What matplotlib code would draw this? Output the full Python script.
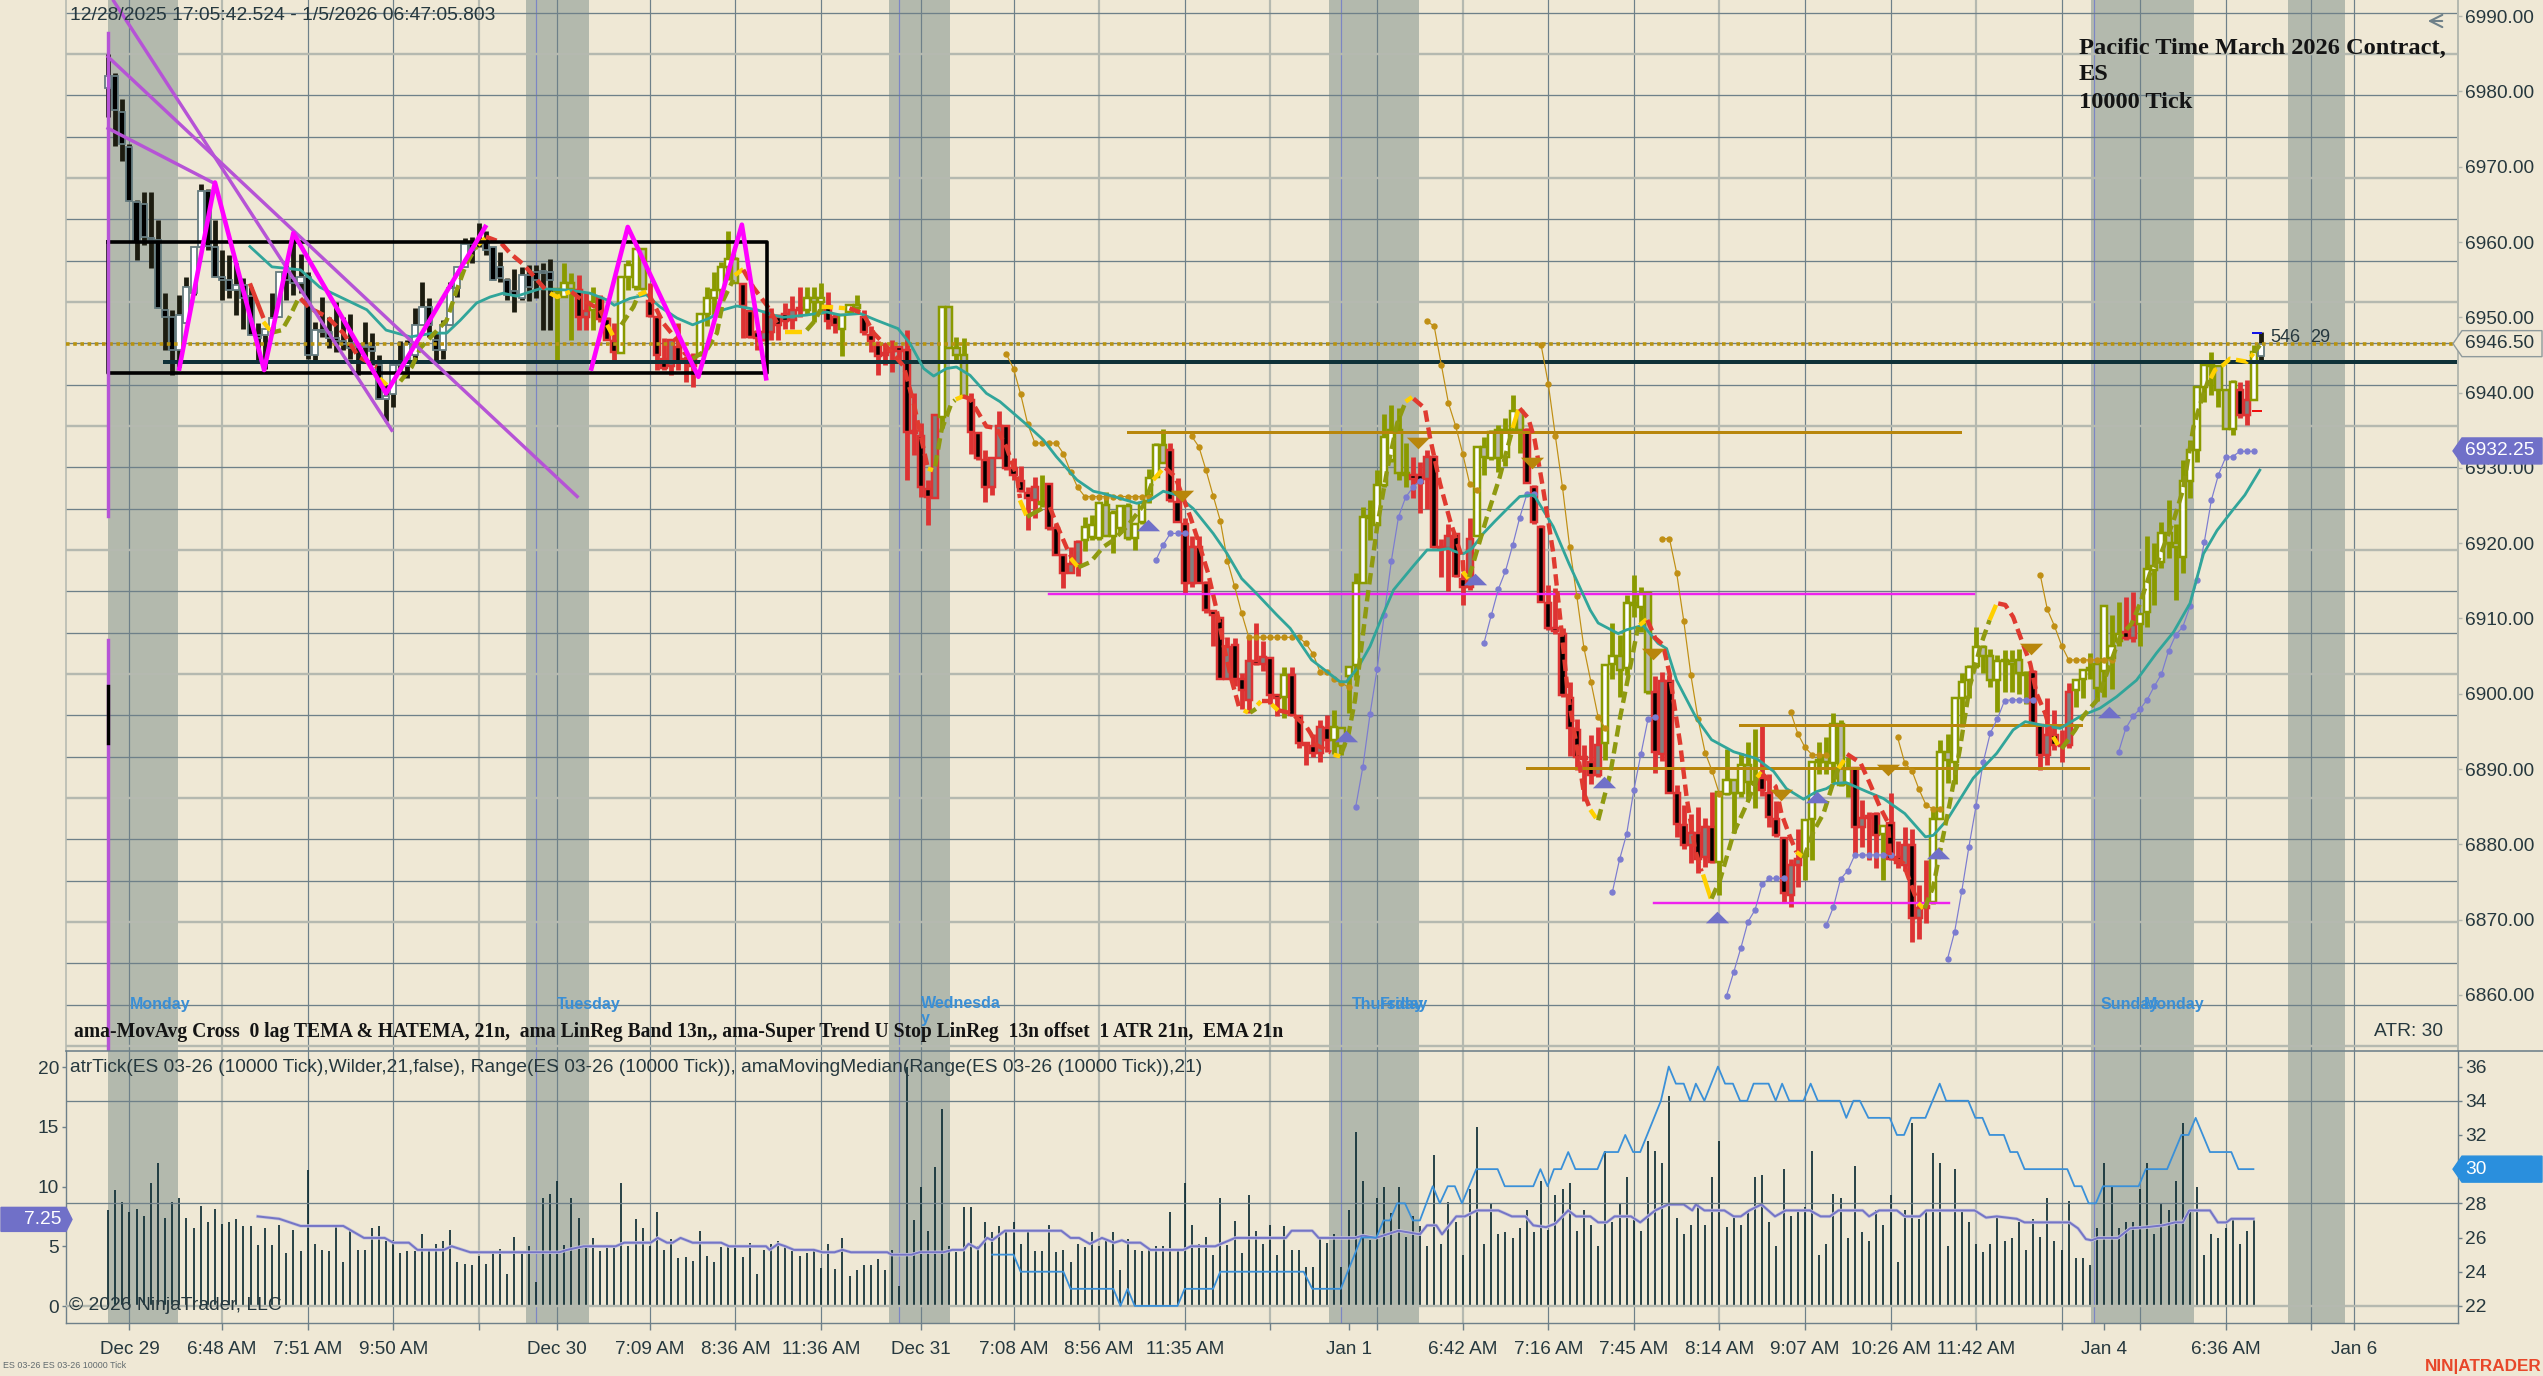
import numpy as np
import matplotlib
matplotlib.use("Agg")
import matplotlib.pyplot as plt
from matplotlib.patches import Polygon

plt.rcParams['font.family'] = ['Liberation Sans', 'DejaVu Sans']

# candles, one value per 10000 tick bar
bar_open = [
    6980.5,6982,6977.3,6972.6,6965.3,6965,6960.5,6960.2,6951,6950,
    6945.7,6949.2,6953.2,6959.4,6966.8,6959.4,6955.4,6955,6953.6,6954.3,
    6952.8,6947.6,6947.6,6948.5,6950.1,6956,6955.2,6954.6,6955.4,6945,
    6948.3,6948,6947.2,6946.8,6946.6,6946,6946,6946.1,6943.7,6939.2,
    6939.8,6943.7,6943.5,6945,6949,6951.4,6947,6945.6,6949,6953.9,
    6956.7,6959.8,6959.8,6960,6959.4,6956.7,6955,6953.5,6952.6,6955.6,
    6956,6956,6956,6953.8,6952.7,6954.6,6953.6,6950,6951,6952.5,
    6949.8,6946.8,6945.2,6955.4,6954,6959.1,6952.2,6950,6944.5,6943.5,
    6946,6944,6944.5,6945,6950.5,6952.5,6953.6,6956.7,6957.8,6954.4,
    6950.8,6948,6947,6948,6950,6950.5,6949.7,6951,6951,6952.6,
    6952,6951.5,6950,6948.5,6950.7,6951.6,6950,6947.6,6946.3,6945,
    6945.5,6946,6945.7,6934.8,6934.2,6927.2,6926,6936.8,6951.4,6945.9,
    6945,6939,6934.6,6931,6927.5,6931.3,6935.5,6930,6928.2,6926.6,
    6925.8,6925.5,6927.8,6922,6918.4,6916,6917.3,6920.4,6920.8,6920.7,
    6925.1,6921,6922,6925,6920.7,6922.8,6926.4,6928.8,6933,6932.4,
    6925.5,6922.6,6914.7,6919.5,6914.7,6911,6910,6902,6906.5,6902,
    6899.2,6904.3,6904,6904.7,6899.8,6899.6,6902.5,6897,6893.4,6893,
    6892.2,6895.5,6893.8,6895.4,6902.3,6903.8,6914.7,6923.5,6922.4,6927.7,
    6931,6935,6929.3,6929,6929,6928.5,6931.5,6919.5,6919.3,6921.2,
    6915.3,6914.2,6920.9,6932.8,6931.3,6935,6931.5,6935,6937.5,6935,
    6927.5,6922.2,6912,6908.7,6908,6899.4,6895.2,6891.6,6891,6889.2,
    6893.4,6904,6905,6903.4,6912,6911.5,6913.4,6900.2,6892,6901.7,
    6886.8,6882.6,6879.9,6881.5,6878.3,6882.3,6877.7,6886.7,6888.6,6886.8,
    6890.5,6888.3,6888.8,6886.8,6883.4,6880.8,6873.3,6877.2,6878.4,6883.4,
    6891,6891.8,6890.8,6896,6888,6890.1,6882.3,6883.5,6884,6881.4,
    6882.8,6878.3,6877.2,6879.9,6870.2,6871.5,6872.4,6883.4,6892.3,6891,
    6899.5,6901.8,6903.7,6906.2,6905,6901.8,6904.5,6904.3,6904.5,6902.7,
    6902.9,6895.8,6891.9,6894.5,6893.2,6893.2,6900.5,6902,6903.1,6904,
    6903,6904.7,6907,6908.2,6907.4,6909.3,6910.9,6916.5,6917.5,6921.3,
    6920,6918.2,6928.2,6932.4,6940.8,6943.7,6943.5,6940.3,6935.2,6940.3,6937,6939,6944.8]
bar_high = [
    6985,6982.4,6979,6973,6965.6,6966.7,6966.7,6962.9,6953.2,6951,
    6953,6955.4,6959.4,6967.7,6967,6962.9,6959,6958.3,6957.2,6955.2,
    6954,6949.2,6947.6,6953.2,6956,6957,6961,6958.4,6956,6949.4,
    6952.7,6950,6952,6950,6950.5,6946.5,6949.4,6947.9,6945,6941,
    6943.7,6946.8,6947,6951.2,6954.7,6952.5,6947.9,6949.6,6954.7,6956.7,
    6960.5,6960.7,6962.5,6961.4,6959.4,6958.7,6955.2,6956.4,6956.7,6957,
    6957,6957.2,6957.7,6953.8,6957.2,6955.9,6955.6,6953.4,6954,6953,
    6950,6949.2,6955.4,6957.6,6959.2,6959.2,6954.5,6950,6947.2,6947,
    6949.2,6944.8,6945.2,6950.5,6954,6956,6957.4,6961.4,6958,6954.4,
    6951,6948.3,6951,6951.2,6950.5,6951.9,6952.8,6954,6954,6954,
    6954.5,6953.4,6950.5,6950.3,6951.8,6953,6951,6948.8,6946.8,6946.5,
    6947,6946,6948.3,6939.9,6935.9,6928.4,6937,6951.4,6951.4,6947.4,
    6947.2,6939.9,6934.8,6932.4,6931.5,6937.5,6935.5,6931.3,6930.2,6927.5,
    6928.8,6929,6928,6922.6,6918.4,6919.5,6920.4,6923.5,6923.8,6925.3,
    6926.8,6924.4,6925,6925.3,6922.6,6925.3,6929.9,6933.3,6935.2,6933.3,
    6928.6,6923.3,6920.9,6921,6915,6911.1,6910.2,6907.6,6907.4,6902.7,
    6907.4,6909.4,6907,6904.9,6900,6903.6,6903.6,6897,6893.4,6894.7,
    6896.5,6897.2,6897.8,6895.6,6903.6,6916,6924.8,6925.7,6929.7,6937.2,
    6938.3,6937.9,6933.3,6931.5,6930.8,6932.4,6931.7,6920.6,6922.6,6921.3,
    6916,6923.3,6932.8,6934.1,6935,6935.7,6936.6,6939.7,6937.5,6935.3,
    6927.7,6922.4,6914.4,6914,6908.7,6901.6,6896.7,6893.2,6894.5,6895.6,
    6903.8,6909.4,6907.8,6913.1,6915.8,6914.2,6913.6,6902.3,6902.9,6902.5,
    6887.9,6885.2,6884.1,6885,6883.5,6887,6887,6892.7,6888.6,6892.1,
    6893.6,6895.3,6895.8,6889.4,6885.7,6881,6878.1,6882.1,6883.2,6891,
    6893.6,6894.3,6897.4,6896.5,6891.6,6890.3,6885.9,6884.3,6884.3,6882.6,
    6886.8,6880.4,6882.3,6882.1,6874.6,6877.9,6884.8,6893.8,6894.7,6899.4,
    6902.7,6903.8,6908.9,6906.5,6906,6905.1,6905.8,6905.8,6906,6903,
    6903.2,6896,6899.4,6897.8,6895.2,6901.4,6902,6903.2,6905.4,6904,
    6911.6,6910.4,6912.2,6912.9,6913.5,6910.7,6920.9,6920,6922.8,6925.7,
    6922.6,6931,6933.7,6940.8,6943.7,6945.4,6943.7,6940.3,6941.7,6941.4,6941.7,6946.3,6948]
bar_low = [
    6976.6,6972.7,6970.7,6965.4,6957.6,6959.6,6956.5,6951.2,6945.7,6942.3,
    6943.4,6949.2,6953,6959.4,6959,6955.4,6952.3,6952.5,6950.3,6948.5,
    6947.6,6944.3,6943.2,6947.9,6950.1,6952.3,6953,6953.2,6944.5,6944,
    6947.4,6945.9,6945.4,6945.6,6944.5,6942.3,6943.9,6943.7,6939.2,6936.2,
    6938.1,6943,6942,6944,6949,6947.4,6944.1,6944.5,6949,6952.7,
    6956.7,6957.2,6959.4,6958.3,6955,6954.7,6952.3,6950.7,6952.3,6952.1,
    6952.5,6948.3,6948.3,6944.3,6952.7,6947,6948.3,6948.3,6948.3,6949.4,
    6947,6944.3,6945.2,6953.6,6953.6,6953.6,6950,6943,6943,6942.3,
    6943,6941.4,6940.8,6944.8,6948.8,6950,6952.3,6955,6954.5,6947.2,
    6947.2,6945.7,6946.8,6947,6947,6948.5,6948.5,6950,6950.5,6949.4,
    6950.5,6948.5,6947.9,6944.8,6950.5,6950.5,6947.6,6945.4,6942.3,6943.7,
    6942.8,6944.3,6928.4,6931.7,6926.2,6922.4,6926,6935.3,6945.9,6944.3,
    6939.5,6931.9,6931,6925.5,6926.4,6931.3,6929.7,6928.4,6926.8,6921.7,
    6923.3,6924.8,6921.8,6918.4,6914,6916,6915.6,6918.9,6920.4,6920.4,
    6921,6918.7,6921.3,6920.4,6919.1,6922.6,6925.3,6928.8,6930.6,6925.5,
    6922.8,6913.3,6914.2,6914.7,6910.7,6906.3,6902,6902,6901,6898,
    6897.4,6903.8,6903,6898.7,6897,6896.8,6897,6892.8,6890.5,6891.6,
    6891,6892.3,6892,6891.9,6897.4,6901.8,6914.7,6920.4,6922.4,6927.5,
    6930.8,6928.4,6927.5,6926,6924,6924.6,6919.3,6915.5,6913.6,6915.5,
    6911.8,6913.8,6920.9,6929,6931,6929.5,6930.2,6935,6932,6928,
    6922.6,6912.2,6908.5,6908,6899.6,6891.7,6889.9,6885.7,6888,6889,
    6891.2,6902,6899.6,6902.5,6910.2,6908.2,6900,6889.5,6891.1,6886.8,
    6881,6879.4,6877.5,6876.2,6877,6877.5,6873.3,6886.6,6881.5,6886.3,
    6885.9,6884.8,6886.4,6882.3,6881,6872.4,6871.7,6874.4,6875.3,6877.9,
    6889.4,6889.3,6888.1,6887.7,6886.3,6878.8,6879.7,6877.9,6876.8,6875.3,
    6877.9,6876.8,6876.4,6867.1,6867.5,6869.5,6872.1,6883.4,6888.1,6888,
    6895.6,6899.4,6903.4,6902.7,6900.9,6897.6,6900.3,6900.3,6900,6898.7,
    6896,6889.9,6890.5,6892.5,6891,6892.8,6898.3,6899.4,6902,6899,
    6899.6,6900.7,6906.3,6907.1,6906.9,6906.3,6908.9,6911.8,6916.7,6918,
    6912.4,6916,6926,6930.8,6938.8,6939.7,6938.1,6935.2,6934.4,6936.6,6935.7,6939,6944]
bar_close = [
    6982,6977.5,6973,6965.4,6960,6960.7,6960.2,6951.2,6950.1,6945.7,
    6950.3,6954,6959.4,6966.8,6959.5,6955.4,6955,6953.6,6954.3,6952.5,
    6947.6,6947.2,6948.5,6949.9,6956,6955,6954.5,6955.4,6945,6948.3,
    6948,6947.2,6946.8,6946.4,6945.9,6946.2,6946.3,6945.5,6939.2,6939.5,
    6943.7,6944,6946.5,6949,6951.4,6949,6945.6,6949,6953.9,6956.7,
    6959.8,6959,6960,6959,6955,6955.2,6953,6953,6955.6,6954,
    6955,6955.9,6955,6953.5,6954.6,6953.8,6950,6950.9,6952,6949.8,
    6947,6945.4,6955.4,6957,6959.1,6953.7,6950.2,6945,6943.3,6947,
    6944,6944.5,6943.5,6950.5,6952.5,6953.6,6956.7,6957.8,6954.5,6951.5,
    6947.4,6947.2,6948,6950,6949,6949.5,6951,6951.3,6952.6,6952,
    6952.5,6949.5,6949,6950.3,6951.6,6951.2,6948,6946.8,6944.8,6945.2,
    6945.8,6945.5,6934.8,6934.6,6927.5,6926.2,6937,6951.4,6945.9,6945,
    6939.5,6934.8,6931.3,6927.5,6931.3,6935.5,6930,6929,6926.9,6926,
    6927.5,6925.2,6922,6918.4,6916,6917.3,6920.2,6922.2,6922.4,6925.3,
    6921,6924,6925,6920.7,6922.6,6925.3,6928.6,6933,6930.6,6925.7,
    6922.8,6914.7,6919.5,6914.7,6911.1,6910.4,6902,6906.2,6902,6900.5,
    6904.3,6904,6904.9,6899.8,6899.5,6902.5,6897.2,6893.5,6893.2,6892.2,
    6895.6,6893.8,6895.6,6893,6903.6,6914.7,6923.5,6923.4,6927.7,6934.1,
    6935,6929.3,6929,6928.5,6928,6931.4,6919.5,6919.2,6921,6915.6,
    6914.2,6920.5,6932.8,6931.5,6934.8,6931.3,6935,6937.5,6935,6928,
    6922.8,6912.2,6908.7,6908.4,6899.8,6895.4,6891.6,6891.4,6889.2,6893.2,
    6903.8,6905,6903.2,6912,6911.8,6913.3,6900.3,6892.3,6901.7,6886.8,
    6882.7,6879.9,6881.5,6878.1,6882.3,6877.7,6887,6888.5,6886.8,6890.5,
    6888.3,6888,6887.2,6883.7,6881.2,6873.5,6877.2,6878,6883.2,6891,
    6891.2,6891,6896,6887.9,6890,6882.3,6883.5,6883.8,6881.2,6882.4,
    6878.1,6877.5,6879.9,6870.2,6871.5,6871.8,6883.4,6892.3,6891.2,6899.4,
    6901.6,6903.6,6906.2,6905,6901.8,6904.4,6904.3,6904,6902.7,6902.5,
    6896.1,6891.9,6894.5,6893.2,6893,6900.3,6901.8,6903.1,6903.4,6900.8,
    6911.6,6906.3,6908,6907.4,6909.2,6910.6,6916.6,6917,6921.3,6920,
    6919.5,6928.2,6932.4,6940.8,6943.7,6943.5,6940.3,6935.2,6941.4,6937,6939,6945.4,6946.5]
bar_regime = ("K"*63 + "O"*3 + "R"*2 + "O" + "R"*3 + "O"*4 + "R"*7 + "O"*6 + "R"*9 + "O"*3
              + "R"*2 + "O"*3 + "R"*11 + "O"*4 + "R"*10 + "O" + "R"*5 + "O"*12 + "R"*16 + "O"
              + "R"*6 + "O"*11 + "R"*9 + "O"*7 + "R"*11 + "O"*7 + "R"*9 + "O"*6 + "R"*6
              + "O"*7 + "R"*4 + "O" + "R"*6 + "O"*14 + "R"*6 + "O"*7 + "R"*2 + "O"*14
              + "R"*2 + "O" + "K")

# lower panel
bar_range = [
    8,9.7,8.7,7.9,8.1,7.5,10.3,12,7.4,8.7,9,7.4,6.5,8.4,7,8.1,6.9,7,7.3,6.7,
    6.7,5.1,6.5,5.1,6.8,4.4,6.4,4.6,11.4,5.2,4.7,4.6,6.7,3.7,6.3,4.7,4.7,6.5,6.7,5.4,
    5.5,4.4,4.6,4.6,6,4.7,5.2,5.4,6.4,3.7,3.5,3.4,4.2,3.5,4.6,4.8,2.7,5.8,4.5,5,
    2,9,9.4,10.5,5.1,9,7.4,5,5.7,4.6,5,5,10.3,5,7.3,6.5,5,7.9,4.7,5.6,
    4,4.1,3.8,6.3,4.2,3.7,4.9,5,5,4.1,5.3,2.7,4.7,5.2,5.4,5.1,4.6,4.2,4.4,4.6,
    3.2,5.2,3.1,5.7,2.5,3,3.4,3.4,3.9,3,4.7,1.7,20,7.2,10,6.3,11.6,16.5,5,4.5,
    8.3,8.3,5,7,6.2,6.7,6.3,7,5.2,6.2,4.6,4.6,6.8,4.5,4.7,3.7,5.2,4.9,6.2,5,
    5.4,6.2,3,5.6,4.7,4.6,4.7,5,5,7.9,4.7,10.3,6.8,5.2,5.8,4.3,9,5.1,7.1,4.4,
    9.3,6.3,5.2,6.8,
    4.3,6.7,4.7,4.7,3.3,3.3,5.7,5.3,6,3.3,8,14.6,10.5,5.5,9,10,7.8,10,5.8,7.5,
    6.7,5,12.6,5.2,8.7,7,4.3,9.8,15,5.2,8.5,6,6.2,5.7,6.5,8,6.2,10.5,6.4,9.3,
    9.8,10.3,6.3,8,6.8,5,13,7,8.5,10.8,7.2,6.3,13.8,13,12,17.6,7.4,6,6.8,8.6,
    6.8,10.8,13.8,6.6,7.5,6.8,8,10.8,11,7,5,11.5,7.5,8,8.3,13,4.3,5.2,9.4,9,
    5.7,11.7,6.2,5.4,8,6.8,9.3,3.7,8,15.3,7.3,8,12.8,12,5,11.5,8,7,5.2,4.5,
    5.2,7.5,5.4,5.7,7,4.7,7.3,5.8,9,5.4,4.7,8.8,4,4,3.4,6.5,12,10,6.5,7,
    7,9.8,12,6,8.5,8,10.5,15.3,8,10,4.3,6,5.7,6.5,7.3,5.2,6.3,7.2]
median_x = [21,24,27,33,35.9,38.8,40,42.2,43.4,47.1,48.2,50.8,63.3,64.4,66.7,71.2,72.4,76.1,77.1,78.4,
            79.2,80.3,82,86,87.1,92.3,92.8,94,95,96.2,99,100.2,101.9,103,104.2,109.3,109.9,112.7,113.8,117.2,
            118.4,120,120.7,122,123.3,124,125.8,133.7,135,136.2,137.7,139.4,141.1,142.2,143,144.8,146.2,150.8,151.9,155.3,
            158.1,163,165.2,166,168.9,169.8,174.9,176,177.8,181,184,185,186.3,187.1,189.1,190.3,192,195,196.9,198.8,
            199.9,201.7,203,204.8,205.9,207.9,209,210.2,211.3,213.6,214.9,217,218.8,221,222.2,222.7,223.9,226.7,228,229,
            230.2,231.9,233.8,235.3,238.7,240.2,241.5,242.7,246.1,247,248.4,250.9,252,254.1,255,261.8,263.4,264.9,267.7,268.8,
            275.1,276.3,277.4,278.2,279.1,281.9,283.6,285.9,288.2,289.9,291,291.9,294.8,295.9,297.1,297.8,300.9]
median_y = [7.5,7.3,6.7,6.7,5.7,5.7,5.3,5.3,4.7,4.7,5,4.5,4.5,4.7,5,5,5.3,5.3,5.7,5.3,
            5.3,5.7,5.3,5.3,5,5,4.7,5.2,5,4.7,4.7,4.5,4.5,4.7,4.5,4.5,4.3,4.3,4.5,4.5,
            4.7,4.7,5.2,4.8,5.7,5.5,6.3,6.3,5.7,5.7,5.2,5.7,5.3,5.5,5.3,5.3,4.7,4.7,5,5,
            5.7,5.7,5.7,6.3,6.3,5.7,5.7,5.9,5.7,6.3,6,6.75,6.75,6,7.5,7.5,8,8,7.5,7.5,
            6.75,6.6,6.9,8,7.5,7.5,7,7,7.5,7.5,7,8,8.5,8.5,8,8.5,8,8,7.5,7.5,
            8,8.5,7.5,8,8,7.5,7.5,8,8,7.5,8,8,7.5,7.5,8,8,7.4,7.5,7.3,7,
            7,6.5,5.6,5.5,5.7,5.7,6.5,6.6,6.75,7,7,8,8,7,7,7.3,7.3]
atr_x = [124,127,128,134,135,141,142,143,144,150,151,155,156,167.7,168.9,172.9,175.8,177.9,178.9,179.8,
         180.8,181.9,183,184,185.8,186.8,187.9,188.9,189.9,191.9,194.9,195.9,199.9,200.9,201.9,202.8,203.8,204.8,205.8,208.9,
         209.9,211.8,212.8,213.9,214.9,217.8,218.9,219.9,221,221.9,222.7,223.9,225.8,226.8,227.9,228.9,229.9,230.8,232.9,233.9,
         234.8,235.8,237.8,238.8,239.8,242.9,243.8,244.8,245.7,246.9,249.9,250.9,251.9,252.9,254.9,256.9,257.8,260.9,261.9,262.9,
         263.9,265.9,266.8,267.8,268.8,274.8,275.8,276.8,277.8,278.8,279.8,284.8,285.8,288.8,290.8,291.8,292.8,294.8,297.8,298.8,300.9]
atr_y = [25,25,24,24,23,23,22,23,22,22,23,23,24,24,23,23,26,26,27,27,
         28,28,27,27,29,28,29,29,28,30,30,29,29,30,29,30,30,31,30,30,
         31,31,32,31,31,34,36,35,35,34,35,34,36,35,35,34,34,35,35,34,
         35,34,34,35,34,34,33,34,34,33,33,32,32,33,33,35,34,34,33,33,
         32,32,31,31,30,30,29,29,28,28,29,29,30,30,32,32,33,31,31,30,30]

# ema line on the price panel
ema_x = [19.9,23,27,29.7,36.3,39,42.4,45.6,47.5,49.4,51.7,53.6,55.4,57.3,60.6,64.8,67.6,70,71,73.2,
         75.5,77.4,79.8,82,84.4,86.3,88.2,91,93.3,94.7,98,100.8,102.7,105.5,107.8,110.8,112.5,114.4,115.8,117.6,
         119,120.9,123.2,125.1,128.9,131.2,133,135.9,138.2,139.6,144.3,146.1,148,149.9,152.2,155,156.9,159,161.1,163.9,
         165.8,168.8,172.8,173.7,175.4,177,178.9,180.3,183.1,185,186.8,188,188.9,190.1,191.3,192.9,194.5,196.6,198,200,
         202.7,204.9,207.9,209,211.8,213,215.3,217.4,218.6,220,222.8,224.9,228,231.2,233.6,235.4,237.8,239.6,241,242.2,
         243.8,246.7,249,252,254.9,256,257.9,261.6,264.9,267.2,268.9,271.4,273.8,276.6,279.4,281.7,284.5,287.3,289.7,292,
         293.9,295.8,298,299.7,301.8]
ema_y = [6959.4,6956.7,6956.3,6954,6951,6948.3,6947.4,6947.9,6947.9,6949.6,6951.9,6952.7,6953.2,6952.8,6953.8,6953.6,6953.2,6952.3,6951.6,6952.5,
         6953,6951.4,6949.9,6949,6949.9,6951,6951.5,6951,6950.3,6950,6950.3,6950.7,6950.3,6950.5,6949.6,6948.5,6946.5,6943.2,6942.2,6943.2,
         6943.4,6942.3,6939.9,6938.8,6935.7,6933.7,6931.5,6928.4,6926.9,6926.6,6925.3,6925.7,6926.9,6926.4,6924.6,6921.3,6918.7,6915.3,6913.3,6910.5,
         6908.7,6904.5,6901.6,6901.6,6903.6,6906.3,6910.7,6913.8,6917,6919.1,6919.1,6919.3,6918.9,6918.6,6919.3,6921.3,6922.9,6924.9,6926.2,6926.4,
         6922.2,6917.3,6911.1,6909.4,6908,6908.5,6909.1,6906.7,6906,6901.8,6896.7,6893.9,6892.3,6891.4,6889.7,6887.4,6886,6887,6887.4,6888.1,
         6888.2,6887,6886.1,6884.1,6881,6881.2,6883.2,6888.8,6892.1,6895.2,6896.3,6895.8,6895.4,6897,6898.1,6899.6,6901.8,6905.4,6908.2,6912,
         6918.6,6921.7,6924.4,6926.4,6929.7]

# zero lag dashed line, pieces by state: r falling, o rising, y turning
trend_state = "ryoryoyryryoyroyryoyr" + "yoyryoryoyr" + "yoyryr" + "yoyr"*6 + "yoyo"
trend_bars = [
    [19.9,21.8],[21.8,22.7],[22.7,24.4,25.5,26.7],[27,28.3,30.7,33,35.1,37.7],[38.1,39.1],
    [41,42.6,43.8,47.5,48.9,50.3,51.7],[51.9,52.9],[53,55,56.4,58.3,60.6,61.8],[62,63,64.8],
    [65,65.9,69,70],[70,70.8],[72,73.7,74.4],[74.4,75.5],[75.8,77.9,79.8,80.9,82],
    [82,84,85.4,86.3,87.7],[87.9,89.1],[89.1,90.5,92.4,94],[95,97.3],[98,99.2,99.9],
    [100.1,102.2,103.4],[104,105.9,107.4,109.2,111.6,113,114,115],
    [115,115.7],[116,116.9,118.3,118.8],[118.9,119.9],
    [119.9,120.9,123.2,124.6,126,127.5,127.9],[127.9,128.8],[128.9,131],
    [132.1,133,134.5,135.2],[135,136],[136.1,137.8,139.6,141,142.9,145.2,146.6],[146.6,147.8],
    [148.3,149.7,150.4,151.8,152.7,154.3,155.5,156.4,157.6,158.7],
    [159.3,159.9],[160.2,161],[161.2,161.7],[161.9,163],[163.2,164.1],
    [164.2,166,166.5,168.1,168.7,169.5,171.5],[171.9,172.8],
    [173,174,174.9,176.6,178,179.4,180.8,182],[182,182.9],
    [183.1,184.7,185.4,186.8,188.2,190,190.1],[190,190.8],
    [190.9,192,193.4,195.2,196.2,197.1],[197,197.8],
    [198,199.2,200.1,201.3,202.7,203.7,204.8,206,207,207.9],[207.9,208.7],
    [209,210.7,212,213.5,214.6],[214.8,215.8],
    [215.9,217,218.1,219,220.5,221.4,222.6,223.5],[223.7,224.8],
    [224.9,226.1,228,230,231.3],[231.3,231.9],
    [232,233.9,234.7,235.9,236.8],[236.8,237.6],
    [237.8,239.2,240.6,241.8,242.7],[242.7,243.5],
    [243.9,245.8,247.1,248.5,249.7,249.9,251.8,252.9,253.7],[253.9,254.6],
    [254.8,256,256.9,258.3,259.7,261.1,262.6,263.9],[263.9,264.8],
    [265.1,266.1,267.2,268.2,269.6,270.5,271.7,272.6],[272.8,273.5],
    [274,275.9,277,279,282.2,283.8,285,286.4,287.6,289.7,291,292.5,293.9,294.6],
    [294.9,295.5,296.7,297.6,298.8,300,300.9],[301.1,301.8]]
trend_prices = [
    [6954.5,6949.9],[6949.4,6948.3],[6947.9,6948.3,6950.1,6952.5],[6952.5,6951.2,6950.1,6947.9,6944.8,6943.4],[6941.9,6941],
    [6941.5,6943.4,6945.9,6949.6,6953.6,6957.2,6959.4],[6959.6,6960.5],[6960.7,6960,6958.5,6957,6954.5,6953.2],[6953.2,6952.7,6953.4],
    [6953.4,6952.7,6951,6949],[6949,6947.6],[6949,6951.4,6953],[6953,6953.4],[6953.2,6949.2,6947,6945.2,6944.5],
    [6944.5,6945.7,6947.9,6952.3,6955],[6955.6,6956.4],[6956.3,6954,6951.6,6949],[6948,6948],[6948.3,6949.6,6951],
    [6951.4,6951.3,6951.2],[6951.2,6950.5,6947.9,6946.1,6943.5,6938.6,6934.2,6929.9],
    [6929.9,6929.7],[6930.2,6935,6938.6,6939],[6939.1,6939.5],
    [6939.5,6939.2,6935.5,6935.3,6932.8,6928.8,6926],[6925.7,6923.7],[6923.5,6924.6],
    [6924.8,6922.6,6919.3,6918],[6918,6916.9],[6916.8,6917.5,6919.5,6920.4,6922.2,6925,6928.4],[6928.4,6929.7],
    [6930,6928.8,6927,6923.5,6920.9,6916,6911.1,6906.7,6901.8,6898],
    [6897.8,6897.5],[6897.5,6898],[6898.5,6899],[6899,6899],[6898.6,6897.8],
    [6897.8,6897.4,6897,6895.6,6894.7,6893.2,6892.2],[6891.9,6891.7],
    [6892.1,6894.7,6899.2,6912.5,6922.2,6929.7,6935.9,6938.8],[6938.8,6939.4],
    [6939.2,6937.9,6934.1,6928,6923.1,6917.8,6916.2],[6916.2,6915.3],
    [6915.5,6919,6923.5,6928.8,6932.4,6935.5],[6935.3,6937.7],
    [6937.9,6936.6,6933.7,6927.1,6918.7,6909.8,6899.6,6893,6886.8,6884.6],[6884.6,6883.5],
    [6883.2,6889.4,6896.5,6903.6,6908.9],[6909.1,6909.9],
    [6909.8,6907.4,6906.5,6902.7,6893.4,6886.3,6879.3,6876.4],[6876,6872.8],
    [6872.8,6875.3,6881.5,6885.7,6888.8],[6888.9,6889.6],
    [6889.4,6887.7,6884.1,6881,6879],[6879,6878.4],
    [6878.1,6881.7,6884.1,6887.7,6890.1],[6890.1,6891.2],
    [6892,6890.8,6888.1,6885,6882.8,6878.4,6877.5,6874.6,6872.6],[6872.2,6871.5],
    [6871.5,6874.4,6878.8,6885.4,6892.5,6900.9,6906.3,6909.8],[6909.8,6911.8],
    [6912,6911.8,6910.2,6907.6,6904,6900,6897.4,6894.5],[6894.3,6893.2],
    [6892.7,6895.2,6897,6899.2,6907.6,6909.3,6912,6916,6917.8,6923,6927,6935.5,6939.9,6941.7],
    [6941.9,6943,6943.7,6944.5,6944.3,6944.1,6945.2],[6945.4,6946.3]]

# gold and blue stop dots, first bar then one price per bar
gold_start = [126, 152, 185, 201, 218, 236, 251, 271]
gold_runs = [
    [6945.1,6943.2,6939.8,6935.8,6933.3,6933.3,6933.3,6933.3,6931.9,6929.5,6927.4,6926.2,6926.2,6926.2,6926.2,6926.2,6926.2,6926.2,6926.2,6926.2,6926.2],
    [6934.2,6932.8,6929.7,6926.3,6923,6917.7,6914.3,6910.7,6907.5,6907.5,6907.5,6907.5,6907.5,6907.5,6907.5,6907.5,6906.7,6905.3,6902.9,6902.9,6901.9,6901.4,6900.9],
    [6949.5,6948.8,6943.7,6938.6,6935.6,6931.9,6927.8,6927.1],
    [6946.3,6941.2,6934.2,6927.4,6919.5,6913,6906.1,6901.5,6896.9,6895.4],
    [6920.6,6920.6,6916.1,6909.7,6902.5,6896.7,6892.2,6889.7,6886.7],
    [6897.6,6894.7,6892.9,6891.9,6891.9,6891.9],
    [6894.2,6890.8,6889.8,6887.3,6885.2,6884.7,6884.7],
    [6915.8,6911.2,6909,6906.4,6904.5,6904.5,6904.5,6904.5,6904.5,6904.5,6904.5]]
blue_start = [147, 175, 193, 211, 227, 241, 258, 282]
blue_runs = [
    [6917.8,6919.8,6921.3,6921.3,6921.3],
    [6885,6890.3,6897.3,6903.3,6910.5,6917.7,6923.5,6926.1,6927.4,6928.3],
    [6906.8,6910.4,6913.9,6916.3,6919.7,6923.4,6926.5,6926.5],
    [6873.7,6878,6881.4,6887.2,6892,6896.7,6896.9],
    [6859.9,6863,6866.2,6869.7,6871.3,6874.7,6875.5,6875.5,6875.5],
    [6869.3,6871.7,6875.4,6876.5,6878.6,6878.6,6878.6,6878.6,6878.6,6878.6],
    [6864.8,6868.4,6873.8,6879.7,6885.1,6890.9,6894.8,6896.7,6899.1,6899.2,6899.2,6899.2,6899.2],
    [6892.3,6895.4,6897,6898,6899.2,6901,6902.6,6905.7,6907.8,6908.9,6911.6,6915.1,6920.1,6925.7,6929.1,6931.4,6931.5,6932.2,6932.2,6932.2]]
up_x = [145.8,173.7,191.7,209.8,225.7,239.7,256.7,280.7]
up_y = [6922.4,6894.4,6915.2,6888.3,6870.3,6886.3,6878.8,6897.6]
down_x = [150.7,183.7,199.7,216.7,234.6,249.7,269.7]
down_y = [6926.3,6933.3,6930.7,6905.3,6886.6,6889.9,6906]

# drawings
zig_x = [10,15,21.9,26,39,52.9]
zig_y = [6943.2,6967.9,6943,6961.2,6939.9,6962]
zig2_x = [67.8,72.9,82.8,88.9,92.3]
zig2_y = [6943.2,6962,6942.1,6962.3,6941.9]
fan_x = [[0,65.8],[0.8,39.8],[0,14.9]]
fan_y = [[6984.6,6926.2],[6992,6935],[6975.1,6967.8]]
box_x = [0,92.4,92.4,0,0]
box_y = [6960,6960,6942.6,6942.6,6960]
gold_levels = [(6934.8,143,259.7),(6895.9,228.9,276.7),(6890.2,199,277.7)]
pink_levels = [(6913.3,132,261.7),(6872.2,216.8,258.2)]

bands = [(0,9.87),(58.6,67.5),(109.5,118.1),(171.3,183.9),(278.1,292.6),(305.7,313.8)]
session_lines = [60,110.9,172.9,278.6]
tick_bars = [3,16,28,40,52,63,76,88,100,114,127,139,151,163,174,178,190,202,214,226,238,250,262,274,280,285,297,309,315]
tick_text = ["Dec 29","6:48 AM","7:51 AM","9:50 AM","","Dec 30","7:09 AM","8:36 AM","11:36 AM","Dec 31","7:08 AM","8:56 AM",
             "11:35 AM","","Jan 1","","6:42 AM","7:16 AM","7:45 AM","8:14 AM","9:07 AM","10:26 AM","11:42 AM","","Jan 4","",
             "6:36 AM","","Jan 6"]
no_grid = [174,280]
light_grid = [16,52,139,163,190,226,262]
day_bars = [3,63,114,174.4,178.4,279.5,285.5]
day_names = ["Monday","Tuesday","Wednesda\ny","Thursday","Friday","Sunday","Monday"]

BG = "#efe8d5"
BAND = "#b3b9ad"
DARK = "#6e8089"
LIGHT = "#b5b9b0"
TXT = "#26383e"
OLIVE = "#8a9a00"
RED = "#dd3333"
GOLD = "#b8860b"
SLATE = "#7070c8"
W, H = 2543, 1376
PX = 0.72

fig = plt.figure(figsize=(W/100, H/100), dpi=100, facecolor=BG)
ax = fig.add_axes([66/W, 1-1051/H, (2458-66)/W, 1051/H], facecolor=BG)
low = fig.add_axes([66/W, 1-1323/H, (2458-66)/W, 272/H], facecolor=BG)
xlim = ((66-108)/7.13, (2458-108)/7.13)
ax.set_xlim(*xlim)
ax.set_ylim(6852.56, 6992.14)
low.set_xlim(*xlim)
low.set_ylim(-1.42, 21.34)
low2 = low.twinx()
low2.set_ylim(21, 36.91)

for a in (ax, low):
    for b0, b1 in bands:
        a.axvspan(b0, b1, color=BAND, lw=0, zorder=0)
    for b, name in zip(tick_bars, tick_text):
        if b in no_grid:
            continue
        if b in light_grid:
            a.axvline(b, color=LIGHT, lw=2.2*PX, zorder=1)
        else:
            a.axvline(b, color=DARK, lw=1.2*PX, zorder=1)
    for b in session_lines:
        a.axvline(b, color="#7c86c4", lw=1.2*PX, zorder=1)

for k in range(26):
    if k % 3 == 1:
        ax.axhline(6990.45-5.489*k, color=LIGHT, lw=2.4*PX, zorder=1)
    else:
        ax.axhline(6990.45-5.489*k, color=DARK, lw=1.3*PX, zorder=1)
for v, col, w in [(34,DARK,1.3),(28,DARK,1.3),(22,LIGHT,2.4)]:
    low2.axhline(v, color=col, lw=w*PX, zorder=1)

# candles
for i in range(len(bar_open)):
    o, h, l, c, s = bar_open[i], bar_high[i], bar_low[i], bar_close[i], bar_regime[i]
    if s == "K":
        wick, edge, fill, ew = "#1c1c10", "#667c80", ("white" if c >= o else "black"), 1.8
    elif s == "O":
        wick, edge, fill, ew = OLIVE, OLIVE, ("white" if c >= o else "#b8b8b0"), 2.5
    else:
        wick, edge, fill, ew = RED, RED, ("#808080" if c >= o else "black"), 2.5
    ax.vlines(i, l, h, color=wick, lw=4.8*PX, zorder=3)
    ax.bar(i, max(abs(c-o), 0.25), bottom=min(o, c), width=0.85, facecolor=fill,
           edgecolor=edge, linewidth=ew*PX, zorder=4)

# levels
ax.plot(xlim, [6946.5, 6946.5], color="#b8930f", lw=3.6*PX, ls=(0, (1, 1)), zorder=5)
ax.plot([8, xlim[1]-0.4], [6944, 6944], color="#0f3138", lw=4*PX, zorder=5)
for v, b0, b1 in gold_levels:
    ax.plot([b0, b1], [v, v], color=GOLD, lw=3*PX, zorder=5)
for v, b0, b1 in pink_levels:
    ax.plot([b0, b1], [v, v], color="#ee22ee", lw=2.4*PX, zorder=5)

# stop dots
for st, run in zip(gold_start, gold_runs):
    ax.plot(np.arange(st, st+len(run)), run, color="#c08f14", lw=1.2*PX, marker="o", ms=5*PX, zorder=6)
for st, run in zip(blue_start, blue_runs):
    ax.plot(np.arange(st, st+len(run)), run, color="#7c7cd0", lw=1.2*PX, marker="o", ms=5*PX, zorder=6)

ax.plot(ema_x, ema_y, color="#31a59a", lw=2.8*PX, zorder=7)

# dashed trend
trend_cols = {"r": "#e03a30", "o": "#8f9a10", "y": "#ffd000"}
for s, xs, ys in zip(trend_state, trend_bars, trend_prices):
    ax.plot(xs, ys, color=trend_cols[s], lw=4.4*PX, ls=(0, (2.6, 1.3)) if len(xs) > 2 else "-",
            solid_capstyle="butt", dash_capstyle="butt", zorder=8)

up_mark = [(-1, -0.5), (1, -0.5), (0, 0.5)]
down_mark = [(-1, 0.5), (1, 0.5), (0, -0.5)]
ax.scatter(up_x, up_y, marker=up_mark, s=280, color=SLATE, lw=0, zorder=9)
ax.scatter(down_x, down_y, marker=down_mark, s=280, color=GOLD, lw=0, zorder=9)

# drawing objects
ax.plot(box_x, box_y, color="black", lw=3.6*PX, zorder=10)
for xs, ys in zip(fan_x, fan_y):
    ax.plot(xs, ys, color="#b653d6", lw=3.4*PX, zorder=11)
ax.plot([0, 0], [6987.8, 6923.6], color="#b653d6", lw=3.4*PX, zorder=11)
ax.plot([0, 0], [6907.2, 6852.6], color="#b653d6", lw=3.4*PX, zorder=11)
ax.plot([0, 0], [6901, 6893.5], color="black", lw=3.4*PX, zorder=11)
ax.plot(zig_x, zig_y, color="#ff00ff", lw=4.6*PX, zorder=12)
ax.plot(zig2_x, zig2_y, color="#ff00ff", lw=4.6*PX, zorder=12)
ax.plot([300.9, 301.9], [6947.9, 6947.9], color="#1414e6", lw=2*PX, zorder=12)
ax.plot([300.9, 301.9], [6937.6, 6937.6], color="#f01010", lw=2*PX, zorder=12)

# lower panel
low.vlines(np.arange(len(bar_range)), 0, bar_range, color="#0b2a32", lw=1.7*PX, zorder=3)
low.plot(median_x, median_y, color="#c9c8dc", lw=3.4*PX, zorder=4)
low.plot(median_x, median_y, color="#7575c6", lw=2*PX, zorder=5)
low2.plot(atr_x, atr_y, color="#3a90d8", lw=1.8*PX, zorder=6)
low2.patch.set_visible(False)

# axes
ax.yaxis.tick_right()
ax.set_yticks(np.arange(6860, 6991, 10))
ax.set_yticklabels(["%.2f" % v for v in np.arange(6860, 6991, 10)])
ax.tick_params(axis="y", length=3, width=1, color=LIGHT, labelsize=13.8, labelcolor=TXT, pad=2)
ax.tick_params(axis="x", length=0, labelbottom=False)
low.set_xticks(tick_bars)
low.set_xticklabels(tick_text)
low.tick_params(axis="x", length=5, width=1, color=DARK, labelsize=13.6, labelcolor=TXT, pad=8)
low.set_yticks([0, 5, 10, 15, 20])
low.tick_params(axis="y", length=3, width=1, color=DARK, labelsize=13.8, labelcolor=TXT, pad=2)
low2.set_yticks(np.arange(22, 37, 2))
low2.tick_params(axis="y", length=3, width=1, color=DARK, labelsize=13.8, labelcolor=TXT, pad=2)
for a in (ax, low, low2):
    for s in a.spines.values():
        s.set_visible(False)
ax.spines["left"].set_visible(True)
ax.spines["left"].set_color(LIGHT)
ax.spines["left"].set_linewidth(1.6*PX)
ax.spines["right"].set_visible(True)
ax.spines["right"].set_color(LIGHT)
ax.spines["right"].set_linewidth(2*PX)
low.spines["left"].set_visible(True)
low.spines["left"].set_color(DARK)
low.spines["left"].set_linewidth(1.4*PX)
low2.spines["right"].set_visible(True)
low2.spines["right"].set_color(DARK)
low2.spines["right"].set_linewidth(1.4*PX)
low.spines["bottom"].set_visible(True)
low.spines["bottom"].set_color(DARK)
low.spines["bottom"].set_linewidth(1.4*PX)

# overlay in pixels for texts and price tags
ov = fig.add_axes([0, 0, 1, 1], facecolor="none")
ov.set_xlim(0, W)
ov.set_ylim(H, 0)
ov.axis("off")


def py(a, v):
    return H - a.transData.transform((0, v))[1]


def px(b):
    return ax.transData.transform((b, 0))[0]


def tag(y, face, edge, label, col):
    ov.add_patch(Polygon([(2453, y), (2462, y-13), (W-1, y-13), (W-1, y+13), (2462, y+13)],
                         closed=True, facecolor=face, edgecolor=edge, lw=1, zorder=5))
    ov.text(2465, y, label, color=col, fontsize=13.8, va="center", ha="left", zorder=6)


ov.plot([66, W], [1051, 1051], color=DARK, lw=1.6*PX)
tag(py(ax, 6946.5), BG, "#8f9a9c", "6946.50", TXT)
tag(py(ax, 6932.25), SLATE, SLATE, "6932.25", "white")
tag(py(low2, 30), "#2a8fdd", "#2a8fdd", "30", "white")
y725 = py(low, 7.25)
ov.add_patch(Polygon([(1, y725-12), (66, y725-12), (72, y725), (66, y725+12), (1, y725+12)],
                     closed=True, facecolor=SLATE, edgecolor=SLATE, lw=1))
ov.text(61, y725, "7.25", color="white", fontsize=13.8, va="center", ha="right")

ov.text(70, 16, "12/28/2025 17:05:42.524 - 1/5/2026 06:47:05.803", color=TXT, fontsize=13.9, va="center")
ov.text(2079, 48, "Pacific Time March 2026 Contract,", family="Liberation Serif", weight="bold",
        color="#141414", fontsize=17.6, va="center")
ov.text(2079, 75, "ES", family="Liberation Serif", weight="bold", color="#141414", fontsize=17.6, va="center")
ov.text(2079, 103, "10000 Tick", family="Liberation Serif", weight="bold", color="#141414", fontsize=17.6, va="center")
ov.annotate("", xy=(2425, 21), xytext=(2445, 21),
            arrowprops=dict(arrowstyle="->", color="#6e8089", lw=1.5, mutation_scale=22))
ov.text(2270, 338, "546", color=TXT, fontsize=13, va="center")
ov.text(2310, 338, "29", color=TXT, fontsize=13, va="center")
ov.text(74, 1032, "ama-MovAvg Cross  0 lag TEMA & HATEMA, 21n,  ama LinReg Band 13n,, ama-Super Trend U Stop LinReg  13n offset  1 ATR 21n,  EMA 21n",
        family="Liberation Serif", weight="bold", color="#141414", fontsize=14.15, va="center")
ov.text(2374, 1032, "ATR: 30", color=TXT, fontsize=13.8, va="center")
ov.text(70, 1068, "atrTick(ES 03-26 (10000 Tick),Wilder,21,false), Range(ES 03-26 (10000 Tick)), amaMovingMedian(Range(ES 03-26 (10000 Tick)),21)",
        color=TXT, fontsize=13.77, va="center")
ov.text(69, 1306, "© 2026 NinjaTrader, LLC", color=TXT, fontsize=13.9, va="center")
for b, name in zip(day_bars, day_names):
    ov.text(px(b), 996 if "\n" in name else 1004, name, color="#3a8fd6", weight="bold", fontsize=11.5,
            va="top" if "\n" in name else "center", linespacing=1.0)
ov.text(3, 1366, "ES 03-26 ES 03-26 10000 Tick", color="#606a6e", fontsize=6.4, va="center")
ov.text(W-1, 1366, "NIN|ATRADER", color="#e8472a", weight="bold", fontsize=12.3, va="center", ha="right")

fig.savefig("out.png", dpi=100, facecolor=BG)
